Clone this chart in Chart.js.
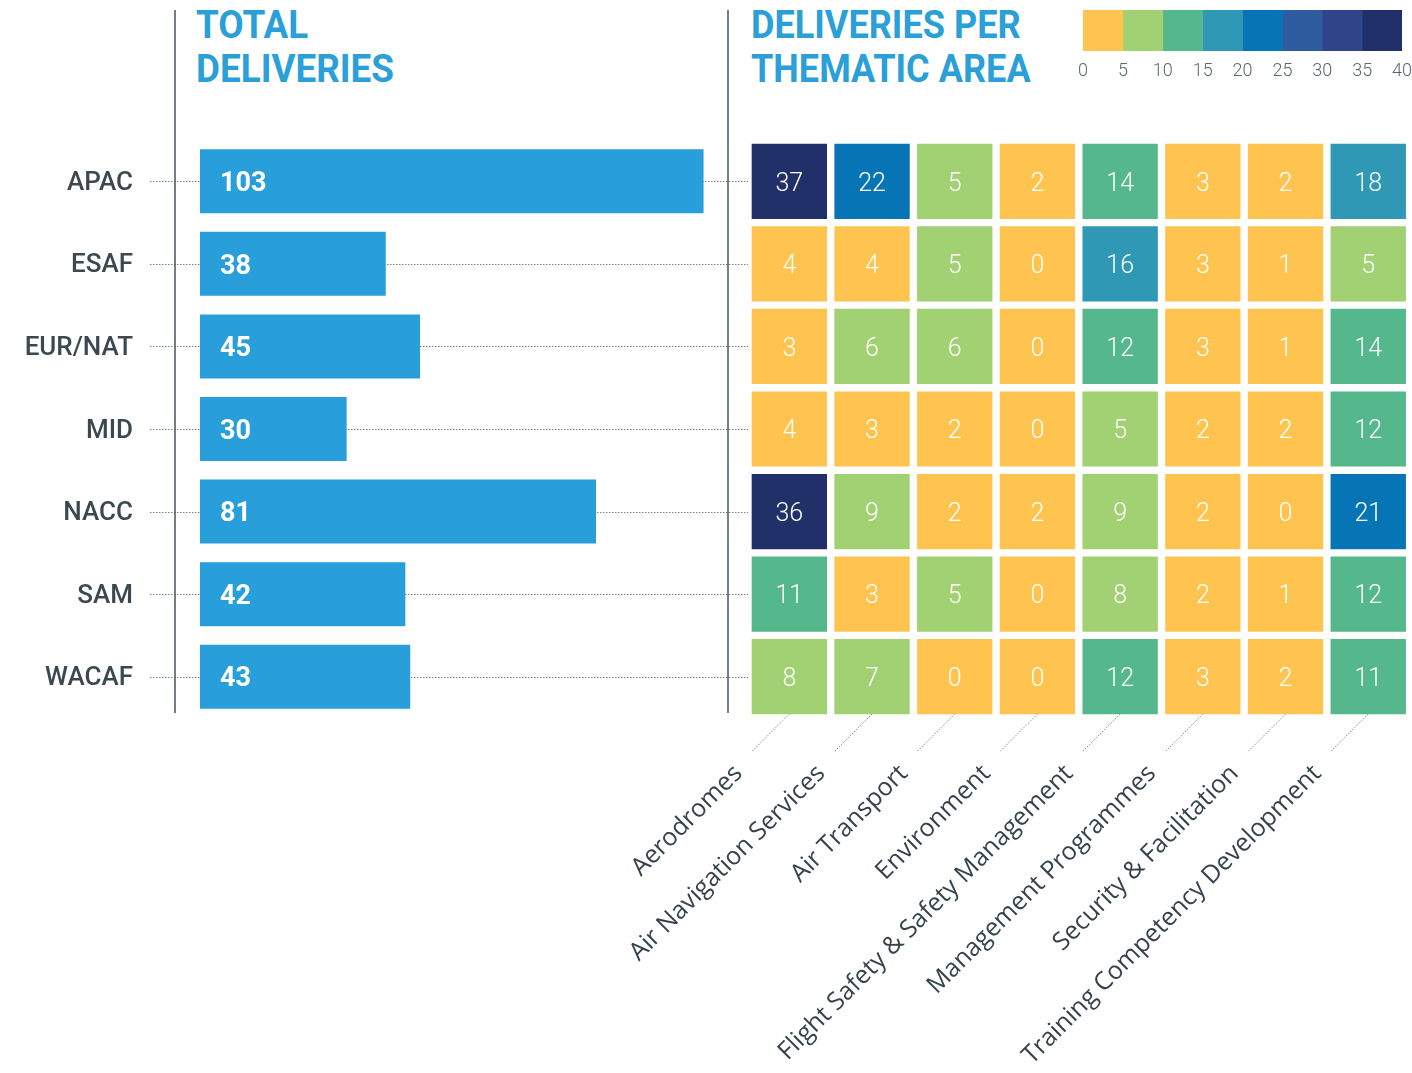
<!DOCTYPE html>
<html>
<head>
<meta charset="utf-8">
<script src="https://cdn.jsdelivr.net/npm/chart.js@4.4.1/dist/chart.umd.min.js"></script>
<style>
  body { margin: 0; background: #fff; }
  #wrap { position: relative; width: 1412px; height: 1073px; overflow: hidden; }
  canvas { position: absolute; }
  .title {
    position: absolute; top: 4px;
    font-family: Roboto, sans-serif; font-weight: 700; font-size: 38px;
    line-height: 43.5px; color: #2a9fd8;
    transform: scaleX(0.97); transform-origin: left top; white-space: nowrap;
  }
</style>
</head>
<body>
<div id="wrap">
  <div class="title" style="left:196px">TOTAL<br>DELIVERIES</div>
  <div class="title" style="left:751px;transform:scaleX(0.95)">DELIVERIES PER<br>THEMATIC AREA</div>
  <canvas id="bars" width="752" height="720" style="left:0;top:0"></canvas>
  <canvas id="heat" width="1412" height="1073" style="left:0;top:0"></canvas>
  <canvas id="scale" width="342" height="90" style="left:1070px;top:0"></canvas>
</div>
<script>
'use strict';

// regions and total deliveries
const regions = ['APAC', 'ESAF', 'EUR/NAT', 'MID', 'NACC', 'SAM', 'WACAF'];
const totals = [103, 38, 45, 30, 81, 42, 43];

// deliveries per thematic area, one value per region (same order as regions)
const areas = ['Aerodromes', 'Air Navigation Services', 'Air Transport', 'Environment',
  'Flight Safety & Safety Management', 'Management Programmes', 'Security & Facilitation',
  'Training Competency Development'];
const aerodromes = [37, 4, 3, 4, 36, 11, 8];
const airNavigation = [22, 4, 6, 3, 9, 3, 7];
const airTransport = [5, 5, 6, 2, 2, 5, 0];
const environment = [2, 0, 0, 0, 2, 0, 0];
const flightSafety = [14, 16, 12, 5, 9, 8, 12];
const mgmtProgrammes = [3, 3, 3, 2, 2, 2, 3];
const securityFacil = [2, 1, 1, 2, 0, 1, 2];
const trainingComp = [18, 5, 14, 12, 21, 12, 11];
const areaValues = [aerodromes, airNavigation, airTransport, environment,
  flightSafety, mgmtProgrammes, securityFacil, trainingComp];

// colour scale
const scaleTicks = [0, 5, 10, 15, 20, 25, 30, 35, 40];
const scaleColors = ['#fec44f', '#a2d173', '#55b78c', '#2f98b4', '#0775b5', '#2e5c9f', '#2f4589', '#22306a'];

function colorFor(v) {
  let bin = Math.floor(v / 5);
  if (bin > scaleColors.length - 1) bin = scaleColors.length - 1;
  return scaleColors[bin];
}

const textDark = '#3b4850';

// ---------- left: total deliveries ----------
const barDecor = {
  id: 'barDecor',
  beforeDatasetsDraw(chart) {
    const ctx = chart.ctx;
    const area = chart.chartArea;
    const y = chart.scales.y;
    ctx.save();
    ctx.strokeStyle = '#7c8489';
    ctx.lineWidth = 1;
    ctx.setLineDash([1.5, 1.5]);
    regions.forEach((r, i) => {
      const py = Math.round(y.getPixelForValue(i)) + 0.5;
      ctx.beginPath();
      ctx.moveTo(150, py);
      ctx.lineTo(chart.width, py);
      ctx.stroke();
    });
    ctx.setLineDash([]);
    ctx.strokeStyle = '#4a555c';
    ctx.lineWidth = 1.5;
    [area.left - 25, area.right].forEach(x => {
      ctx.beginPath();
      ctx.moveTo(x, 10);
      ctx.lineTo(x, area.bottom - 5);
      ctx.stroke();
    });
    ctx.restore();
  },
  afterDatasetsDraw(chart) {
    const ctx = chart.ctx;
    ctx.save();
    ctx.fillStyle = '#fff';
    ctx.font = '700 27px Roboto';
    ctx.textAlign = 'left';
    ctx.textBaseline = 'middle';
    chart.getDatasetMeta(0).data.forEach((bar, i) => {
      ctx.fillText(String(totals[i]), bar.base + 20, bar.y + 3);
    });
    ctx.restore();
  }
};

new Chart(document.getElementById('bars'), {
  type: 'bar',
  data: {
    labels: regions,
    datasets: [{
      data: totals,
      backgroundColor: '#289fda',
      barPercentage: 0.775,
      categoryPercentage: 1
    }]
  },
  options: {
    indexAxis: 'y',
    responsive: false,
    animation: false,
    layout: { padding: { top: 140, bottom: 2, left: 0, right: 24 } },
    plugins: { legend: { display: false }, tooltip: { enabled: false } },
    scales: {
      x: { display: false, min: 0, max: 108 },
      y: {
        grid: { display: false, drawTicks: false },
        border: { display: false },
        ticks: { padding: 67, labelOffset: 2, color: textDark, font: { family: 'Roboto', size: 26, weight: 500 } },
        afterFit(s) { s.width = 200; s.paddingTop = 0; s.paddingBottom = 0; }
      }
    }
  },
  plugins: [barDecor]
});

// ---------- right: heatmap ----------
const heatDecor = {
  id: 'heatDecor',
  afterDatasetsDraw(chart) {
    const ctx = chart.ctx;
    const area = chart.chartArea;
    const x = chart.scales.x;
    ctx.save();
    ctx.fillStyle = '#fff';
    ctx.font = '300 25px Roboto';
    ctx.textAlign = 'center';
    ctx.textBaseline = 'middle';
    areaValues.forEach((vals, d) => {
      chart.getDatasetMeta(d).data.forEach((cell, i) => {
        ctx.fillText(String(vals[i]), (cell.x + cell.base) / 2, cell.y + 3);
      });
    });
    ctx.strokeStyle = '#7c8489';
    ctx.lineWidth = 1;
    ctx.setLineDash([1.5, 1.5]);
    areas.forEach((a, i) => {
      const cx = x.getPixelForValue(i + 0.5);
      ctx.beginPath();
      ctx.moveTo(cx, area.bottom - 4);
      ctx.lineTo(cx - 38, area.bottom + 34);
      ctx.stroke();
    });
    ctx.restore();
  }
};

new Chart(document.getElementById('heat'), {
  type: 'bar',
  data: {
    labels: regions,
    datasets: areaValues.map((vals, d) => ({
      label: areas[d],
      data: vals.map(() => 1),
      backgroundColor: vals.map(colorFor),
      borderColor: '#fff',
      borderWidth: 4,
      borderSkipped: false,
      barPercentage: 1,
      categoryPercentage: 1
    }))
  },
  options: {
    indexAxis: 'y',
    responsive: false,
    animation: false,
    layout: { padding: { top: 140, bottom: 0, left: 748, right: 2.4 } },
    plugins: { legend: { display: false }, tooltip: { enabled: false } },
    scales: {
      y: { display: false, stacked: true },
      x: {
        stacked: true, min: 0, max: 8,
        grid: { display: false, drawTicks: false },
        border: { display: false },
        afterBuildTicks(s) { s.ticks = areas.map((a, i) => ({ value: i - 0.117 })); },
        ticks: {
          autoSkip: false, minRotation: 45, maxRotation: 45, padding: 41,
          color: '#34434b',
          font: { family: 'Open Sans', size: 25 },
          callback: (v, i) => areas[i]
        },
        afterFit(s) { s.height = 355; s.paddingLeft = 0; s.paddingRight = 0; }
      }
    }
  },
  plugins: [heatDecor]
});

// ---------- colour legend ----------
new Chart(document.getElementById('scale'), {
  type: 'bar',
  data: {
    labels: [''],
    datasets: scaleColors.map((c, i) => ({
      data: [scaleTicks[i + 1] - scaleTicks[i]],
      backgroundColor: c,
      barPercentage: 1,
      categoryPercentage: 1
    }))
  },
  options: {
    indexAxis: 'y',
    responsive: false,
    animation: false,
    layout: { padding: { top: 10, bottom: 0, left: 13, right: 10 } },
    plugins: { legend: { display: false }, tooltip: { enabled: false } },
    scales: {
      y: { display: false, stacked: true },
      x: {
        stacked: true, min: 0, max: 40,
        grid: { display: false, drawTicks: false },
        border: { display: false },
        ticks: { stepSize: 5, padding: 10, color: '#5b6770', font: { family: 'Roboto', size: 18, weight: 300 } },
        afterFit(s) { s.height = 39; s.paddingLeft = 0; s.paddingRight = 0; }
      }
    }
  }
});
</script>
</body>
</html>
